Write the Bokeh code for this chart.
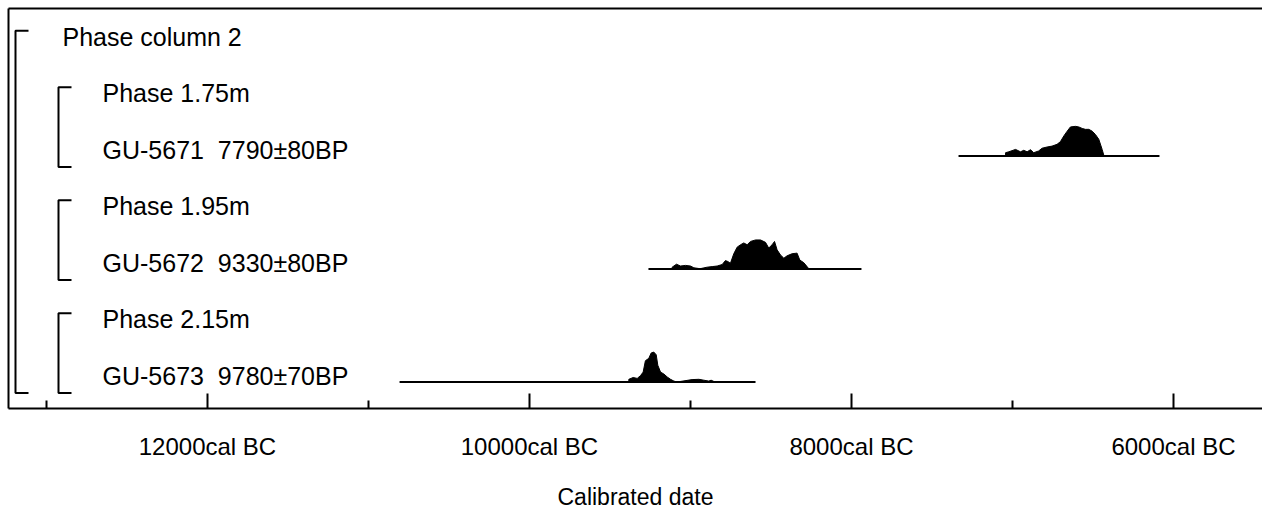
from bokeh.plotting import figure
from bokeh.models import Range1d, LinearAxis, FixedTicker, ColumnDataSource
from bokeh.core.properties import value
from bokeh.embed import file_html
from bokeh.resources import INLINE

# ---------------- data ----------------
labels = ["Phase column 2", "Phase 1.75m", "GU-5671 \u00a07790\u00b180BP",
          "Phase 1.95m", "GU-5672 \u00a09330\u00b180BP",
          "Phase 2.15m", "GU-5673 \u00a09780\u00b170BP"]
label_levels = [0, 1, 1, 1, 1, 1, 1]

phase_first = [0, 1, 3, 5]
phase_last = [6, 2, 4, 6]
phase_level = [0, 1, 1, 1]

sample_rows = [2, 4, 6]
range_from = [7335, 9261, 10807]   # cal BC
range_to = [6087, 7938, 8596]

yr_5671 = [7043, 7023, 6981, 6950, 6930, 6909, 6888, 6868, 6837, 6816, 6785, 6754,
           6723, 6702, 6681, 6660, 6640, 6609, 6588, 6567, 6547, 6526, 6505, 6485,
           6464, 6443, 6433]
pr_5671 = [0.11, 0.14, 0.22, 0.14, 0.19, 0.14, 0.21, 0.11, 0.17, 0.26, 0.30, 0.33,
           0.39, 0.48, 0.67, 0.83, 0.97, 0.99, 0.97, 0.92, 0.89, 0.89, 0.83, 0.72,
           0.56, 0.22, 0.03]

yr_5672 = [9114, 9087, 9062, 9031, 9000, 8979, 8940, 8897, 8865, 8834, 8803, 8783,
           8768, 8752, 8731, 8710, 8689, 8669, 8648, 8627, 8596, 8565, 8534, 8514,
           8493, 8478, 8462, 8441, 8420, 8400, 8369, 8338, 8321, 8296, 8276, 8265]
pr_5672 = [0.06, 0.16, 0.10, 0.12, 0.10, 0.04, 0.01, 0.06, 0.08, 0.10, 0.15, 0.28,
           0.25, 0.19, 0.51, 0.73, 0.81, 0.87, 0.81, 0.92, 0.97, 0.97, 0.89, 0.70,
           0.81, 0.92, 0.64, 0.47, 0.36, 0.44, 0.51, 0.53, 0.30, 0.21, 0.08, 0.01]

yr_5673 = [9383, 9356, 9331, 9311, 9294, 9280, 9259, 9244, 9228, 9213, 9203, 9186,
           9166, 9145, 9124, 9103, 9083, 8990, 8948, 8917, 8886, 8872, 8855]
pr_5673 = [0.09, 0.15, 0.12, 0.21, 0.33, 0.71, 0.79, 0.97, 1.00, 0.91, 0.56, 0.33,
           0.27, 0.17, 0.09, 0.03, 0.00, 0.08, 0.09, 0.06, 0.03, 0.06, 0.02]

sample_years = [yr_5671, yr_5672, yr_5673]
sample_probs = [pr_5671, pr_5672, pr_5673]

major_ticks = [12000, 10000, 8000, 6000]
minor_ticks = [13000, 11000, 9000, 7000]
tick_labels = ["12000cal BC", "10000cal BC", "8000cal BC", "6000cal BC"]
axis_title = "Calibrated date"

# ---------------- layout constants ----------------
X_START, X_END = 13236, 5447
FW, FH = 1254, 400
ROW_PX = 56.5
TOP_PX = 28
px_per_year = FW / (X_START - X_END)
FONT = "Liberation Sans"
indent_text = [54, 94]
indent_bracket = [7, 50]
ARM = 13
BASE_OFF = 0.115
PEAK_H = 0.53

y_top = TOP_PX / ROW_PX
y_bot = -(FH - TOP_PX) / ROW_PX

p = figure(frame_width=FW, frame_height=FH,
           x_range=Range1d(X_START, X_END), y_range=Range1d(y_bot, y_top),
           x_axis_type=None, y_axis_type=None,
           toolbar_location=None, output_backend="svg",
           min_border=0, min_border_left=8, min_border_top=8,
           outline_line_color=None,
           background_fill_color="white", border_fill_color="white")

# labels
src_txt = ColumnDataSource(dict(
    x=[X_START] * len(labels),
    y=[-i for i in range(len(labels))],
    t=labels,
    xo=[indent_text[l] for l in label_levels],
))
p.text(x="x", y="y", text="t", x_offset="xo", source=src_txt,
       text_font=value(FONT), text_font_size="25px", text_color="black",
       text_align="left", text_baseline="middle")

# brackets
bxs, bys = [], []
for f, l, lev in zip(phase_first, phase_last, phase_level):
    xv = X_START - indent_bracket[lev] / px_per_year
    xa = xv - ARM / px_per_year
    yt = -(f - 0.1)
    yb = -(l + 0.31)
    bxs.append([xa, xv, xv, xa])
    bys.append([yt, yt, yb, yb])
p.multi_line(xs=bxs, ys=bys, line_color="black", line_width=2)

# distributions
pxs, pys, lxs, lys = [], [], [], []
for row, a, b, yrs, prs in zip(sample_rows, range_from, range_to, sample_years, sample_probs):
    base = -(row + BASE_OFF)
    pxs.append([yrs[0]] + list(yrs) + [yrs[-1]])
    pys.append([base] + [base + pr * PEAK_H for pr in prs] + [base])
    lxs.append([a, b])
    lys.append([base, base])
p.patches(xs=pxs, ys=pys, fill_color="black", line_color="black", line_width=1)
p.multi_line(xs=lxs, ys=lys, line_color="black", line_width=2)

# axes
xaxis = LinearAxis(
    ticker=FixedTicker(ticks=major_ticks, minor_ticks=minor_ticks),
    major_label_overrides={t: s for t, s in zip(major_ticks, tick_labels)},
    major_tick_in=15, major_tick_out=0, minor_tick_in=8, minor_tick_out=0,
    axis_line_width=2, major_tick_line_width=2, minor_tick_line_width=2,
    axis_line_color="black", major_tick_line_color="black", minor_tick_line_color="black",
    major_label_standoff=24,
    major_label_text_font=FONT, major_label_text_font_size="24px",
    major_label_text_color="black",
    axis_label=axis_title, axis_label_standoff=21,
    axis_label_text_font=FONT, axis_label_text_font_size="23px",
    axis_label_text_font_style="normal", axis_label_text_color="black",
)
p.add_layout(xaxis, "below")

for loc in ["left", "above"]:
    ax = LinearAxis(ticker=FixedTicker(ticks=[]), major_tick_out=0, major_tick_in=0,
                    minor_tick_out=0, minor_tick_in=0, major_label_standoff=0,
                    major_label_text_font_size="0px",
                    axis_line_width=2, axis_line_color="black")
    p.add_layout(ax, loc)

open("out.html", "w").write(file_html(p, INLINE))
